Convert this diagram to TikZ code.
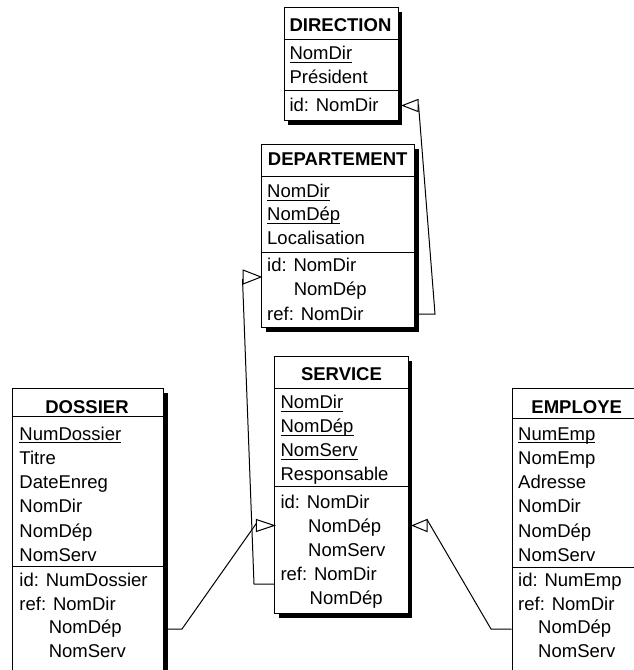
\documentclass[tikz,border=0pt]{standalone}
\usepackage{fontspec}
\setmainfont{Liberation Sans}
\usetikzlibrary{shadows,calc}
\newsavebox\keybox
\newcommand\keyattr[1]{\sbox\keybox{#1}\rlap{\rule[-3.4pt]{\wd\keybox}{1.2pt}}\usebox\keybox}
\tikzset{
 tbl/.style={draw,line width=1pt,fill=white,inner sep=0pt,anchor=north west,
   drop shadow={shadow xshift=4pt,shadow yshift=-4pt,fill=black,opacity=1}},
 hdr/.style={inner sep=0pt,anchor=base,font=\fontsize{18.5pt}{24pt}\selectfont\bfseries},
 att/.style={inner sep=0pt,anchor=base west,font=\fontsize{18.5pt}{24pt}\selectfont},
 sepline/.style={line width=1pt},
 link/.style={line width=1pt},
 tri/.style={line width=1pt,fill=white,line join=miter},
}
\begin{document}
\begin{tikzpicture}[x=1pt,y=-1pt]
\path[use as bounding box] (0,0) rectangle (634,670);
\fill[white] (0,0) rectangle (634,670);
\clip (0,0) rectangle (634,670);

% DIRECTION
\node[tbl,minimum width=114pt,minimum height=113pt] (dir) at (283.5,7) {};
\draw[sepline] (dir.west |- 0,39) -- (dir.east |- 0,39);
\draw[sepline] (dir.west |- 0,90.5) -- (dir.east |- 0,90.5);
\node[hdr] (dir-h) at (340.5,31.7) {DIRECTION};
\node[att] (dir-1) at (289.3,59.5) {\keyattr{NomDir}};
\node[att] (dir-2) at (289.3,83.3) {Président};
\node[att] (dir-3) at (289.3,111) {id: NomDir};

% DEPARTEMENT
\node[tbl,minimum width=153.3pt,minimum height=183pt] (dep) at (261,144) {};
\draw[sepline] (dep.west |- 0,176) -- (dep.east |- 0,176);
\draw[sepline] (dep.west |- 0,252) -- (dep.east |- 0,252);
\node[hdr] (dep-h) at (337.7,165) {DEPARTEMENT};
\node[att] (dep-1) at (267,197.3) {\keyattr{NomDir}};
\node[att] (dep-2) at (267,220.7) {\keyattr{NomDép}};
\node[att] (dep-3) at (267,244) {Localisation};
\node[att] (dep-4) at (267,271.7) {id: NomDir};
\node[att] (dep-5) at (293.6,295.8) {NomDép};
\node[att] (dep-6) at (267,320) {ref: NomDir};

% SERVICE
\node[tbl,minimum width=133.2pt,minimum height=257.3pt] (srv) at (274.3,356) {};
\draw[sepline] (srv.west |- 0,388.3) -- (srv.east |- 0,388.3);
\draw[sepline] (srv.west |- 0,486.7) -- (srv.east |- 0,486.7);
\node[hdr] (srv-h) at (341.5,380) {SERVICE};
\node[att] (srv-1) at (280.3,408.3) {\keyattr{NomDir}};
\node[att] (srv-2) at (280.3,432.3) {\keyattr{NomDép}};
\node[att] (srv-3) at (280.3,456.3) {\keyattr{NomServ}};
\node[att] (srv-4) at (280.3,480.3) {Responsable};
\node[att] (srv-5) at (280.3,508.3) {id: NomDir};
\node[att] (srv-6) at (308,532.3) {NomDép};
\node[att] (srv-7) at (308,556.3) {NomServ};
\node[att] (srv-8) at (280.3,580.3) {ref: NomDir};
\node[att] (srv-9) at (309.5,604.3) {NomDép};

% DOSSIER
\node[tbl,minimum width=151.6pt,minimum height=301.7pt] (dos) at (11.7,388.3) {};
\draw[sepline] (dos.west |- 0,416.7) -- (dos.east |- 0,416.7);
\draw[sepline] (dos.west |- 0,566.7) -- (dos.east |- 0,566.7);
\node[hdr] (dos-h) at (87,413.3) {DOSSIER};
\node[att] (dos-1) at (19.3,440) {\keyattr{NumDossier}};
\node[att] (dos-2) at (19.3,464) {Titre};
\node[att] (dos-3) at (19.3,488.3) {DateEnreg};
\node[att] (dos-4) at (19.3,512.6) {NomDir};
\node[att] (dos-5) at (19.3,537) {NomDép};
\node[att] (dos-6) at (19.3,561.3) {NomServ};
\node[att] (dos-7) at (19.3,586.7) {id: NumDossier};
\node[att] (dos-8) at (19.3,610) {ref: NomDir};
\node[att] (dos-9) at (48.6,633.5) {NomDép};
\node[att] (dos-10) at (48.6,657) {NomServ};

% EMPLOYE
\node[tbl,minimum width=130pt,minimum height=301.7pt] (emp) at (511.7,388.3) {};
\draw[sepline] (emp.west |- 0,418) -- (emp.east |- 0,418);
\draw[sepline] (emp.west |- 0,567) -- (emp.east |- 0,567);
\node[hdr] (emp-h) at (576.7,413.3) {EMPLOYE};
\node[att] (emp-1) at (518,440) {\keyattr{NumEmp}};
\node[att] (emp-2) at (518,464) {NomEmp};
\node[att] (emp-3) at (518,488.3) {Adresse};
\node[att] (emp-4) at (518,512.6) {NomDir};
\node[att] (emp-5) at (518,537) {NomDép};
\node[att] (emp-6) at (518,561.3) {NomServ};
\node[att] (emp-7) at (518,586.7) {id: NumEmp};
\node[att] (emp-8) at (518,610) {ref: NomDir};
\node[att] (emp-9) at (538,633.5) {NomDép};
\node[att] (emp-10) at (538,657) {NomServ};

% DEPARTEMENT -> DIRECTION
\coordinate (a1) at ($(dir.east |- 0,105.5)+(4,0)$);
\draw[tri] (a1) -- ++(15.5,-6) -- ++(0,12) -- cycle;
\coordinate (b1) at (435,314);
\draw[link] (dep.east |- b1) -- (b1) -- ($(a1)+(16,-1)$);

% SERVICE -> DEPARTEMENT
\coordinate (a2) at (dep.west |- 0,277);
\draw[tri] (a2) -- ++(-18,-7) -- ++(0,14) -- cycle;
\coordinate (b2) at (254,584);
\draw[link] (srv.west |- b2) -- (b2) -- ($(a2)+(-18.5,2)$);

% DOSSIER -> SERVICE
\coordinate (a3) at (srv.west |- 0,525.5);
\draw[tri] (a3) -- ++(-18,-6) -- ++(0,12) -- cycle;
\coordinate (b3) at (182,629);
\draw[link] (dos.east |- b3) -- (b3) -- ($(a3)+(-18,-2)$);

% EMPLOYE -> SERVICE
\coordinate (a4) at ($(srv.east |- 0,525.5)+(4,0)$);
\draw[tri] (a4) -- ++(14.5,-6) -- ++(0,12) -- cycle;
\coordinate (b4) at (491,629);
\draw[link] (emp.west |- b4) -- (b4) -- ($(a4)+(14.5,-6)$);
\end{tikzpicture}
\end{document}
